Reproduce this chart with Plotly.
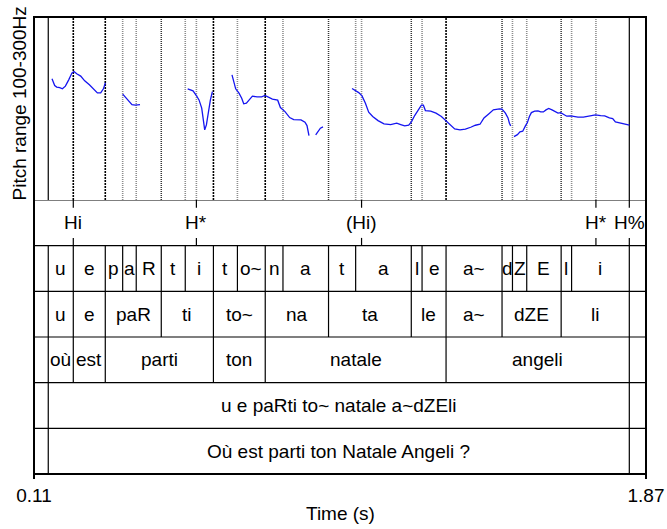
import plotly.graph_objects as go

# ---------------- data ----------------
t_min, t_max = 0.11, 1.87

pitch_times = [
    0.1618, 0.1695, 0.1753, 0.1839, 0.1917, 0.2003, 0.2098, 0.2193, 0.2250, 0.2328,
    0.2443, 0.2558, 0.2693, 0.2825, 0.2923, 0.3018, 0.3096, 0.3153, None,
    0.3651, 0.3746, 0.3823, 0.3918, 0.4016, 0.4148, None,
    0.5520, 0.5673, 0.5770, 0.5845, 0.5923, 0.5960, 0.6009, 0.6058, 0.6115, 0.6173, 0.6230, None,
    0.6794, 0.6852, 0.6900, 0.6995, 0.7073, 0.7131, 0.7208, 0.7283, 0.7381, 0.7513,
    0.7648, 0.7743, 0.7841, 0.7956, 0.8108, 0.8186, 0.8318, 0.8453, 0.8568, 0.8778,
    0.8893, 0.8951, 0.9008, None,
    0.9201, 0.9279, 0.9336, 0.9411, None,
    1.0245, 1.0343, 1.0438, 1.0533, 1.0631, 1.0725, 1.0840, 1.0993, 1.1165, 1.1358,
    1.1531, 1.1646, 1.1761, 1.1876, 1.1953, 1.2048, 1.2163, 1.2241, 1.2298, 1.2356,
    1.2508, 1.2661, 1.2816, 1.2948, 1.3084, 1.3198, 1.3351, 1.3506, 1.3659, 1.3794,
    1.3926, 1.4041, 1.4176, 1.4311, 1.4484, 1.4559, 1.4657, 1.4731, 1.4772, 1.4809, None,
    1.4904, 1.5002, 1.5076, 1.5154, 1.5232, 1.5289, 1.5347, 1.5404, 1.5499, 1.5594,
    1.5672, 1.5749, 1.5824, 1.5902, 1.5997, 1.6095, 1.6169, 1.6247, 1.6342, 1.6420,
    1.6535, 1.6629, 1.6744, 1.6900, 1.7015, 1.7130, 1.7245, 1.7397, 1.7512, 1.7647,
    1.7742, 1.7820, 1.7915, 1.8030, 1.8125, 1.8223,
]
pitch_hz = [
    232.4, 225.1, 223.4, 222.9, 221.5, 224.4, 231.3, 239.0, 240.4, 237.9,
    235.4, 230.2, 225.9, 220.4, 217.1, 217.1, 221.5, 228.1, None,
    215.7, 212.0, 208.3, 204.3, 203.6, 204.3, None,
    221.5, 219.3, 214.2, 209.4, 200.4, 189.4, 176.6, 182.1, 196.6, 209.4, 218.5, None,
    236.8, 229.5, 221.5, 216.8, 211.3, 205.1, 205.8, 209.1, 213.5, 212.7,
    212.7, 214.2, 212.4, 210.2, 209.1, 201.0, 196.6, 190.1, 187.9, 187.5,
    185.0, 181.3, 170.4, None,
    171.1, 175.8, 178.5, 179.9, None,
    221.8, 219.6, 217.4, 213.8, 205.8, 196.0, 191.2, 186.8, 183.2, 182.4,
    183.9, 182.4, 181.0, 181.7, 185.4, 192.3, 199.3, 203.6, 203.6, 197.7,
    197.1, 194.9, 191.2, 186.8, 181.7, 177.7, 176.6, 177.4, 179.5, 181.7,
    182.8, 189.7, 194.1, 198.5, 199.6, 199.3, 194.9, 189.7, 183.9, 181.0, None,
    169.3, 171.4, 174.4, 175.2, 181.0, 184.6, 191.2, 195.5, 197.1, 197.4,
    196.3, 196.3, 198.5, 200.1, 198.5, 196.3, 194.9, 195.5, 193.3, 191.6,
    191.9, 191.2, 190.5, 190.5, 191.2, 192.3, 193.0, 192.3, 191.9, 189.7,
    189.0, 185.4, 184.6, 183.9, 182.8, 181.7,
]
pitch_range = [100, 300]

tone_times = [0.223, 0.577, 1.052, 1.726, 1.822]
tone_labels = ["Hi", "H*", "(Hi)", "H*", "H%"]

phone_bounds = [0.11, 0.151, 0.223, 0.315, 0.365, 0.404, 0.476, 0.545, 0.626, 0.695, 0.775,
                0.826, 0.957, 1.035, 1.195, 1.226, 1.295, 1.456, 1.486, 1.527, 1.626,
                1.656, 1.822, 1.87]
phone_labels = ["", "u", "e", "p", "a", "R", "t", "i", "t", "o~", "n", "a", "t", "a", "l",
                "e", "a~", "d", "Z", "E", "l", "i", ""]

syll_bounds = [0.11, 0.151, 0.223, 0.315, 0.476, 0.626, 0.775, 0.957, 1.195, 1.295, 1.456,
               1.626, 1.822, 1.87]
syll_labels = ["", "u", "e", "paR", "ti", "to~", "na", "ta", "le", "a~", "dZE", "li", ""]

word_bounds = [0.11, 0.151, 0.223, 0.315, 0.626, 0.775, 1.295, 1.822, 1.87]
word_labels = ["", "où", "est", "parti", "ton", "natale", "angeli", ""]

phon_bounds = [0.11, 0.151, 1.822, 1.87]
phon_labels = ["", "u e paRti to~ natale a~dZEli", ""]

sent_bounds = [0.11, 0.151, 1.822, 1.87]
sent_labels = ["", "Où est parti ton Natale Angeli ?", ""]

tick_vals = [0.11, 1.87]
tick_text = ["0.11", "1.87"]

# ---------------- layout geometry ----------------
W, H = 667, 529
ML, MR, MT, MB = 34, 21, 17, 55
plot_h = H - MT - MB
pitch_px = 183
split = 1 - pitch_px / plot_h
FONT = "Liberation Sans, Arial, sans-serif"
FS = 19

interval_tiers = [
    (phone_bounds, phone_labels),
    (syll_bounds, syll_labels),
    (word_bounds, word_labels),
    (phon_bounds, phon_labels),
    (sent_bounds, sent_labels),
]

fig = go.Figure()
fig.add_trace(go.Scatter(x=pitch_times, y=pitch_hz, mode="lines",
                         line=dict(color="#1515f0", width=1.3),
                         connectgaps=False, hoverinfo="skip", showlegend=False,
                         xaxis="x", yaxis="y"))

shapes = []
annotations = []

# count boundaries across tiers for the pitch-area lines
counts = {}
for b, _ in interval_tiers:
    for v in b[1:-1]:
        counts[round(v, 3)] = counts.get(round(v, 3), 0) + 1
for v in tone_times:
    counts[round(v, 3)] = counts.get(round(v, 3), 0) + 1

for v, c in counts.items():
    if c >= 5:
        ln = dict(color="#000000", width=1.2)
    elif c >= 3:
        ln = dict(color="#000000", width=1.6, dash="2px,1px")
    elif c == 2:
        ln = dict(color="#333333", width=1.5, dash="1px,1px")
    else:
        ln = dict(color="#8c8c8c", width=1.6, dash="1px,1px")
    shapes.append(dict(type="line", xref="x", yref="y", x0=v, x1=v,
                       y0=pitch_range[0], y1=pitch_range[1], line=ln, layer="below"))

# tier separators
for r in range(0, 6):
    shapes.append(dict(type="line", xref="paper", yref="y2", x0=0, x1=1, y0=r, y1=r,
                       line=dict(color="black", width=1.2)))

# tone tier (row 0)
for tv, tl in zip(tone_times, tone_labels):
    shapes.append(dict(type="line", xref="x", yref="y2", x0=tv, x1=tv, y0=0, y1=0.17,
                       line=dict(color="black", width=1.2)))
    shapes.append(dict(type="line", xref="x", yref="y2", x0=tv, x1=tv, y0=0.83, y1=1,
                       line=dict(color="black", width=1.2)))
    annotations.append(dict(x=tv, y=0.5, xref="x", yref="y2", text=tl, showarrow=False,
                            xanchor="center", yanchor="middle",
                            font=dict(family=FONT, size=FS, color="black")))

# interval tiers
for i, (b, labs) in enumerate(interval_tiers):
    row = i + 1
    for v in b[1:-1]:
        shapes.append(dict(type="line", xref="x", yref="y2", x0=v, x1=v, y0=row, y1=row + 1,
                           line=dict(color="black", width=1.2)))
    for j, lab in enumerate(labs):
        if lab:
            annotations.append(dict(x=(b[j] + b[j + 1]) / 2, y=row + 0.5, xref="x", yref="y2",
                                    text=lab, showarrow=False, xanchor="center",
                                    yanchor="middle",
                                    font=dict(family=FONT, size=FS, color="black")))

# frame
shapes.append(dict(type="rect", xref="paper", yref="paper", x0=0, x1=1, y0=0, y1=1,
                   line=dict(color="black", width=2)))

# axis titles
annotations.append(dict(x=-15 / (W - ML - MR), y=1 - (pitch_px / 2 - 5) / plot_h,
                        xref="paper", yref="paper", text="Pitch range 100-300Hz",
                        textangle=-90, showarrow=False, xanchor="center", yanchor="middle",
                        font=dict(family=FONT, size=FS, color="black")))
annotations.append(dict(x=0.5, y=-39 / plot_h, xref="paper", yref="paper", text="Time (s)",
                        showarrow=False, xanchor="center", yanchor="middle",
                        font=dict(family=FONT, size=FS, color="black")))

fig.update_layout(
    width=W, height=H,
    margin=dict(l=ML, r=MR, t=MT, b=MB, pad=0, autoexpand=False),
    paper_bgcolor="white", plot_bgcolor="white",
    showlegend=False,
    xaxis=dict(range=[t_min, t_max], anchor="y2", showgrid=False, zeroline=False,
               automargin=False,
               showline=False, ticks="outside", ticklen=4, tickwidth=1.5, tickcolor="black",
               tickvals=tick_vals, ticktext=tick_text,
               tickfont=dict(family=FONT, size=FS, color="black")),
    yaxis=dict(domain=[split, 1], range=pitch_range, visible=False, anchor="x",
               automargin=False),
    yaxis2=dict(domain=[0, split], range=[6, 0], visible=False, anchor="x",
                automargin=False),
    shapes=shapes,
    annotations=annotations,
)

fig.write_html("out.html")
